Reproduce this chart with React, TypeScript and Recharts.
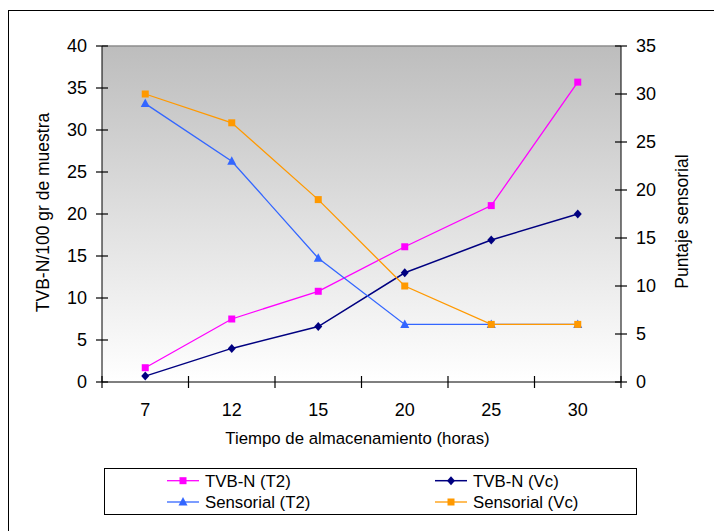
import React from 'react'
import { LineChart, Line, XAxis, YAxis, CartesianGrid, ReferenceLine } from 'recharts'

const horas = ['7', '12', '15', '20', '25', '30']
const tvbnT2 = [1.7, 7.5, 10.8, 16.1, 21.0, 35.7]
const tvbnVc = [0.7, 4.0, 6.6, 13.0, 16.9, 20.0]
const sensorialT2 = [29, 23, 12.9, 6, 6, 6]
const sensorialVc = [30, 27, 19, 10, 6, 6]
const leftTicks = [0, 5, 10, 15, 20, 25, 30, 35, 40]
const rightTicks = [0, 5, 10, 15, 20, 25, 30, 35]

type Shape = 'square' | 'diamond' | 'triangle'

const series: { key: string; name: string; color: string; shape: Shape; axis: string; values: number[]; width: number }[] = [
  { key: 'tvbnT2', name: 'TVB-N (T2)', color: '#ff00ff', shape: 'square', axis: 'left', values: tvbnT2, width: 1.3 },
  { key: 'tvbnVc', name: 'TVB-N (Vc)', color: '#000080', shape: 'diamond', axis: 'left', values: tvbnVc, width: 1.5 },
  { key: 'sensT2', name: 'Sensorial (T2)', color: '#3366ff', shape: 'triangle', axis: 'right', values: sensorialT2, width: 1.3 },
  { key: 'sensVc', name: 'Sensorial (Vc)', color: '#ff9900', shape: 'square', axis: 'right', values: sensorialVc, width: 1.3 },
]

const data = horas.map((h, i) => {
  const row: Record<string, string | number> = { hora: h }
  series.forEach((s) => { row[s.key] = s.values[i] })
  return row
})

const FONT = '"Liberation Sans", Arial, sans-serif'
const TICK_FS = 18
const TITLE_FS = 17.5
const BAND = 519 / horas.length

function marker(shape: Shape, cx: number, cy: number, color: string, key?: string | number) {
  if (shape === 'square') {
    return <rect key={key} x={cx - 3.5} y={cy - 3.5} width={7} height={7} fill={color} />
  }
  if (shape === 'diamond') {
    return <path key={key} d={`M${cx},${cy - 4.5}L${cx + 4},${cy}L${cx},${cy + 4.5}L${cx - 4},${cy}Z`} fill={color} />
  }
  return <path key={key} d={`M${cx},${cy - 5}L${cx + 4.5},${cy + 3.5}L${cx - 4.5},${cy + 3.5}Z`} fill={color} />
}

const LeftTick = ({ x, y, payload }: any) => {
  const ax = x + 15
  return (
    <g>
      <line x1={ax - 6} x2={ax + 6} y1={y} y2={y} stroke="#000" strokeWidth={1.2} />
      <text x={x} y={y} dy="0.36em" textAnchor="end" fontSize={TICK_FS} fill="#000" fontFamily={FONT}>{payload.value}</text>
    </g>
  )
}

const RightTick = ({ x, y, payload }: any) => {
  const ax = x - 15
  return (
    <g>
      <line x1={ax - 6} x2={ax + 6} y1={y} y2={y} stroke="#000" strokeWidth={1.2} />
      <text x={x} y={y} dy="0.36em" textAnchor="start" fontSize={TICK_FS} fill="#000" fontFamily={FONT}>{payload.value}</text>
    </g>
  )
}

const BottomTick = ({ x, y, payload, index }: any) => {
  const ay = y - 21
  return (
    <g>
      <line x1={x - BAND / 2} x2={x - BAND / 2} y1={ay - 6} y2={ay + 6} stroke="#000" strokeWidth={1.2} />
      {index === horas.length - 1 && (
        <line x1={x + BAND / 2} x2={x + BAND / 2} y1={ay - 6} y2={ay + 6} stroke="#000" strokeWidth={1.2} />
      )}
      <text x={x} y={y} dy="0.71em" textAnchor="middle" fontSize={TICK_FS} fill="#000" fontFamily={FONT}>{payload.value}</text>
    </g>
  )
}

const XTitle = ({ viewBox }: any) => (
  <text x={viewBox.x + viewBox.width / 2 - 4} y={viewBox.y + 62} textAnchor="middle" fontSize={16.8} fill="#000" fontFamily={FONT}>
    Tiempo de almacenamiento (horas)
  </text>
)

const LeftTitle = () => (
  <text x={33.5} y={201.5} dy="0.36em" transform="rotate(-90, 33.5, 201.5)" textAnchor="middle" fontSize={TITLE_FS} fill="#000" fontFamily={FONT}>
    TVB-N/100 gr de muestra
  </text>
)

const RightTitle = () => (
  <text x={672.5} y={210.5} dy="0.36em" transform="rotate(-90, 672.5, 210.5)" textAnchor="middle" fontSize={TITLE_FS} fill="#000" fontFamily={FONT}>
    Puntaje sensorial
  </text>
)

export default function App() {
  return (
    <div
      style={{
        position: 'fixed',
        left: 8,
        top: 10,
        width: 705,
        height: 520,
        borderLeft: '1px solid #000',
        borderTop: '1px solid #000',
        fontFamily: FONT,
        background: '#fff',
      }}
    >
      <LineChart width={705} height={520} data={data} margin={{ top: 35, right: 0, bottom: 77, left: 0 }}>
        <defs>
          <linearGradient id="plotBg" x1="0" y1="0" x2="0" y2="1">
            <stop offset="0%" stopColor="#bdbdbd" />
            <stop offset="55%" stopColor="#e2e2e2" />
            <stop offset="100%" stopColor="#ffffff" />
          </linearGradient>
        </defs>
        <CartesianGrid horizontal={false} vertical={false} fill="url(#plotBg)" />
        <XAxis
          dataKey="hora"
          type="category"
          height={72}
          padding={{ left: BAND / 2, right: BAND / 2 }}
          tickSize={6}
          tickMargin={15}
          tickLine={false}
          axisLine={{ stroke: '#000' }}
          tick={<BottomTick />}
          interval={0}
          label={XTitle}
        />
        <YAxis
          yAxisId="left"
          orientation="left"
          width={93}
          domain={[0, 40]}
          ticks={leftTicks}
          tickSize={6}
          tickMargin={9}
          tickLine={false}
          axisLine={{ stroke: '#000' }}
          tick={<LeftTick />}
          interval={0}
          label={LeftTitle}
        />
        <YAxis
          yAxisId="right"
          orientation="right"
          width={93}
          domain={[0, 35]}
          ticks={rightTicks}
          tickSize={6}
          tickMargin={9}
          tickLine={false}
          axisLine={{ stroke: '#000' }}
          tick={<RightTick />}
          interval={0}
          label={RightTitle}
        />
        <ReferenceLine yAxisId="left" y={40} stroke="#8c8c8c" strokeWidth={1.5} />
        {series.map((s) => (
          <Line
            key={s.key}
            yAxisId={s.axis}
            dataKey={s.key}
            name={s.name}
            type="linear"
            stroke={s.color}
            strokeWidth={s.width}
            dot={(p: any) => marker(s.shape, p.cx, p.cy, s.color, `${s.key}-${p.index}`)}
            activeDot={false}
            isAnimationActive={false}
          />
        ))}
      </LineChart>
      <div
        style={{
          position: 'absolute',
          left: 95,
          top: 457,
          width: 533,
          height: 47,
          boxSizing: 'border-box',
          border: '1px solid #000',
          background: '#fff',
        }}
      >
        <svg width={531} height={45} style={{ display: 'block' }}>
          {series.map((s, i) => {
            const col = i % 2 === 0 ? 0 : 268
            const yy = i < 2 ? 11.7 : 33
            return (
              <g key={s.key}>
                <line x1={62 + col} x2={94 + col} y1={yy} y2={yy} stroke={s.color} strokeWidth={s.width} />
                {marker(s.shape, 78 + col, yy, s.color)}
                <text x={100 + col} y={yy} dy="0.36em" fontSize={16.8} fill="#000" fontFamily={FONT}>{s.name}</text>
              </g>
            )
          })}
        </svg>
      </div>
    </div>
  )
}
